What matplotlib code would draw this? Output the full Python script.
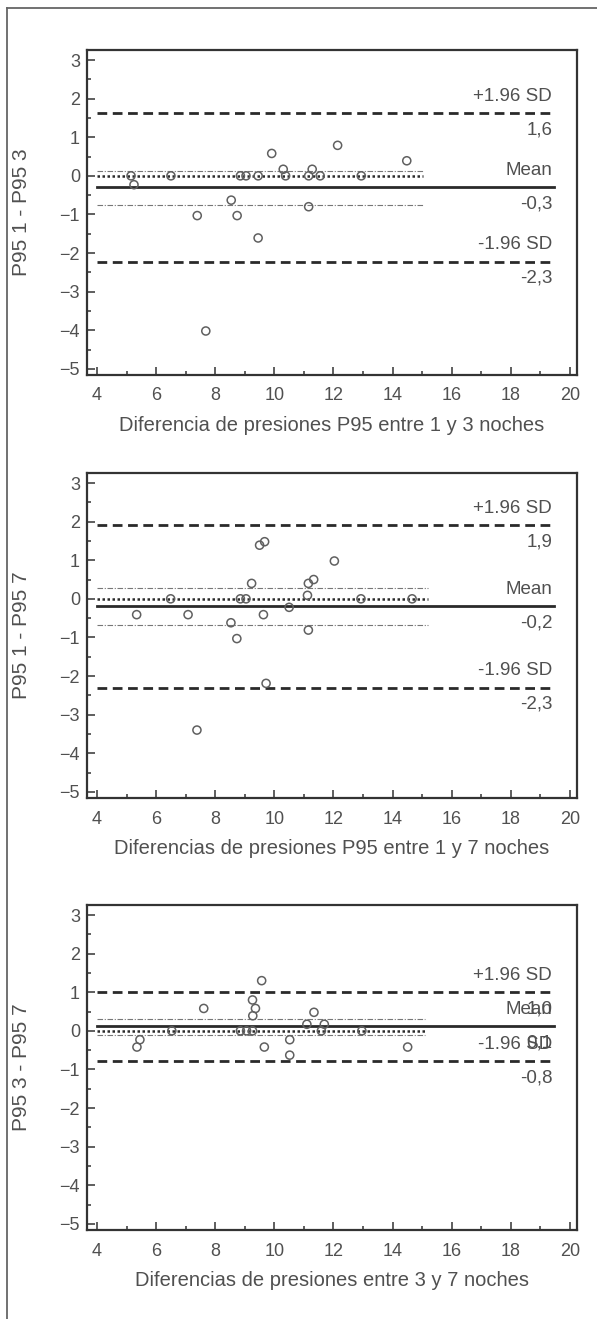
import matplotlib
matplotlib.use("Agg")
import matplotlib.pyplot as plt
from matplotlib.lines import Line2D
from matplotlib.ticker import MultipleLocator

plt.rcParams['font.family'] = ['Liberation Sans', 'DejaVu Sans']

# ---------------- data ----------------
x1 = [5.15, 5.25, 6.50, 7.39, 7.68, 8.54, 8.74, 8.85, 9.04, 9.45, 9.45, 9.91,
      10.30, 10.38, 11.16, 11.16, 11.28, 11.55, 12.14, 12.94, 14.48]
y1 = [0.0, -0.23, 0.0, -1.03, -4.02, -0.63, -1.03, 0.0, 0.0, 0.0, -1.61, 0.58,
      0.17, 0.0, 0.0, -0.80, 0.17, 0.0, 0.79, 0.0, 0.39]

x2 = [5.34, 6.49, 7.08, 7.38, 8.53, 8.73, 8.85, 9.04, 9.23, 9.50, 9.67, 9.63,
      9.72, 10.50, 11.12, 11.15, 11.33, 11.15, 12.03, 12.93, 14.66]
y2 = [-0.41, 0.0, -0.41, -3.40, -0.62, -1.03, 0.0, 0.0, 0.40, 1.39, 1.48, -0.41,
      -2.19, -0.22, 0.09, 0.40, 0.50, -0.81, 0.98, 0.0, 0.0]

x3 = [5.35, 5.45, 6.53, 7.61, 8.85, 9.06, 9.26, 9.26, 9.36, 9.27, 9.57, 9.66,
      10.52, 10.52, 11.10, 11.34, 11.59, 11.69, 12.96, 14.51]
y3 = [-0.42, -0.23, 0.0, 0.58, 0.0, 0.0, 0.0, 0.80, 0.58, 0.39, 1.30, -0.42,
      -0.23, -0.63, 0.17, 0.48, 0.0, 0.17, 0.0, -0.42]

# limits of agreement: upper, mean, lower ; CI of mean: upper, lower
upper = [1.63, 1.90, 1.00]
mean = [-0.29, -0.19, 0.12]
lower = [-2.22, -2.30, -0.78]
ci_hi = [0.13, 0.28, 0.30]
ci_lo = [-0.76, -0.68, -0.11]
ci_end = [15.03, 15.2, 15.1]

upper_lbl = ["1,6", "1,9", "1,0"]
mean_lbl = ["-0,3", "-0,2", "0,1"]
lower_lbl = ["-2,3", "-2,3", "-0,8"]

xlabels = ["Diferencia de presiones P95 entre 1 y 3 noches",
           "Diferencias de presiones P95 entre 1 y 7 noches",
           "Diferencias de presiones entre 3 y 7 noches"]
ylabels = ["P95 1 - P95 3", "P95 1 - P95 7", "P95 3 - P95 7"]

xs = [x1, x2, x3]
ys = [y1, y2, y3]

# ---------------- figure ----------------
W, H = 597, 1319
fig = plt.figure(figsize=(W / 100, H / 100), dpi=100)

tops = [50, 473, 905]
ax_h = 325
left_px, right_px = 87, 577

TXT = '#505050'
LINE = '#2a2a2a'

# outer border (left + top)
fig.add_artist(Line2D([7 / W, 7 / W], [0, 1 - 8 / H], transform=fig.transFigure,
                      color='#666666', lw=1.3))
fig.add_artist(Line2D([7 / W, 1], [1 - 8 / H, 1 - 8 / H], transform=fig.transFigure,
                      color='#666666', lw=1.3))

for i in range(3):
    top = tops[i]
    ax = fig.add_axes([left_px / W, 1 - (top + ax_h) / H,
                       (right_px - left_px) / W, ax_h / H])
    ax.set_xlim(3.66, 20.24)
    ax.set_ylim(-5.16, 3.26)

    x0, x1e = 3.99, 19.46
    # limits of agreement
    ax.plot([x0, x1e], [upper[i], upper[i]], color=LINE, lw=2.0, ls=(0, (3.5, 2.0)))
    ax.plot([x0, x1e], [lower[i], lower[i]], color=LINE, lw=2.0, ls=(0, (3.5, 2.0)))
    ax.plot([x0, x1e], [mean[i], mean[i]], color=LINE, lw=2.0, ls='-')
    # line of equality
    ax.plot([x0, ci_end[i]], [0, 0], color=LINE, lw=1.8, ls=(0, (1.0, 1.0)))
    # CI of mean
    for v in (ci_hi[i], ci_lo[i]):
        ax.plot([x0, ci_end[i]], [v, v], color='#777777', lw=0.8,
                ls=(0, (5, 1.5, 1, 1.5)))

    ax.scatter(xs[i], ys[i], s=34, facecolors='none', edgecolors='#606060',
               linewidths=1.1, zorder=5)

    # labels
    tx = 19.4
    kw = dict(color=TXT, fontsize=13.5, ha='right', va='center',
              textcoords='offset points', zorder=6)
    ax.annotate("+1.96 SD", (tx, upper[i]), xytext=(0, 12), **kw)
    ax.annotate(upper_lbl[i], (tx, upper[i]), xytext=(0, -12), **kw)
    ax.annotate("Mean", (tx, mean[i]), xytext=(0, 12), **kw)
    ax.annotate(mean_lbl[i], (tx, mean[i]), xytext=(0, -12), **kw)
    ax.annotate("-1.96 SD", (tx, lower[i]), xytext=(0, 12), **kw)
    ax.annotate(lower_lbl[i], (tx, lower[i]), xytext=(0, -12), **kw)

    # axes style
    for s in ax.spines.values():
        s.set_color('#333333')
        s.set_linewidth(1.6)
    ax.xaxis.set_major_locator(MultipleLocator(2))
    ax.xaxis.set_minor_locator(MultipleLocator(1))
    ax.yaxis.set_major_locator(MultipleLocator(1))
    ax.yaxis.set_minor_locator(MultipleLocator(0.5))
    ax.tick_params(which='both', direction='in', color='#333333', width=1.1,
                   labelcolor=TXT, labelsize=13)
    ax.tick_params(which='major', length=6)
    ax.tick_params(which='minor', length=3)
    ax.tick_params(axis='y', which='both', pad=5)
    ax.tick_params(axis='x', which='both', pad=9)

    ax.set_xlabel(xlabels[i], color=TXT, fontsize=14.5, labelpad=8)
    ax.set_ylabel(ylabels[i], color=TXT, fontsize=15)
    ax.yaxis.set_label_coords(-0.115, 0.5)

fig.savefig("out.png", dpi=100)
